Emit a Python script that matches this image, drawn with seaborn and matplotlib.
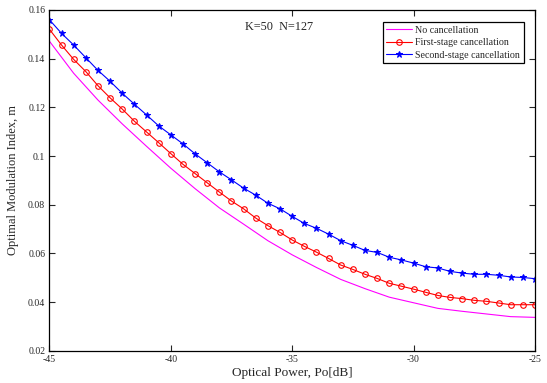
import numpy as np
import pandas as pd
import matplotlib
matplotlib.use('Agg')
import matplotlib.pyplot as plt
import seaborn as sns

# values
power_fine = [-45.0, -44.5, -44.0, -43.5, -43.0, -42.5, -42.0, -41.5, -41.0, -40.5,
              -40.0, -39.5, -39.0, -38.5, -38.0, -37.5, -37.0, -36.5, -36.0, -35.5,
              -35.0, -34.5, -34.0, -33.5, -33.0, -32.5, -32.0, -31.5, -31.0, -30.5,
              -30.0, -29.5, -29.0, -28.5, -28.0, -27.5, -27.0, -26.5, -26.0, -25.5,
              -25.0]
first_stage = [0.1521, 0.1456, 0.1397, 0.1347, 0.1289, 0.1239, 0.1193, 0.1143, 0.1099, 0.1055,
               0.1010, 0.0966, 0.0928, 0.0890, 0.0852, 0.0815, 0.0783, 0.0745, 0.0714, 0.0686,
               0.0655, 0.0629, 0.0605, 0.0579, 0.0552, 0.0534, 0.0514, 0.0497, 0.0477, 0.0465,
               0.0453, 0.0440, 0.0427, 0.0419, 0.0414, 0.0407, 0.0403, 0.0396, 0.0389, 0.0389,
               0.0389]
second_stage = [0.1560, 0.1504, 0.1456, 0.1404, 0.1352, 0.1307, 0.1258, 0.1213, 0.1169, 0.1124,
                0.1087, 0.1050, 0.1009, 0.0972, 0.0935, 0.0902, 0.0868, 0.0839, 0.0806, 0.0783,
                0.0752, 0.0723, 0.0703, 0.0679, 0.0652, 0.0633, 0.0612, 0.0604, 0.0584, 0.0573,
                0.0560, 0.0545, 0.0540, 0.0526, 0.0519, 0.0514, 0.0514, 0.0510, 0.0503, 0.0501,
                0.0496]

power_coarse = [-45, -44, -43, -42, -41, -40, -39, -38, -37, -36, -35,
                -34, -33, -32, -31, -30, -29, -28, -27, -26, -25]
no_cancel = [0.1472, 0.1340, 0.1230, 0.1132, 0.1040, 0.0950, 0.0866, 0.0787, 0.0720, 0.0652, 0.0594,
             0.0542, 0.0493, 0.0455, 0.0420, 0.0397, 0.0374, 0.0362, 0.0351, 0.0340, 0.0337]

sns.set_style('ticks')
plt.rcParams['font.family'] = ['Liberation Serif', 'DejaVu Serif']
plt.rcParams['xtick.direction'] = 'in'
plt.rcParams['ytick.direction'] = 'in'

fig = plt.figure(figsize=(5.47, 3.83), dpi=100)
ax = fig.add_axes([0.0903, 0.0843, 0.8877, 0.8896])

sns.lineplot(x=power_coarse, y=no_cancel, ax=ax, color='#ff00ff', lw=0.8,
             label='No cancellation')
sns.lineplot(x=power_fine, y=first_stage, ax=ax, color='#ff0000', lw=0.8,
             marker='o', markersize=4, markerfacecolor='none', markeredgecolor='#ff0000',
             markeredgewidth=0.8, label='First-stage cancellation')
sns.lineplot(x=power_fine, y=second_stage, ax=ax, color='#0000ff', lw=0.8,
             marker='*', markersize=4.5, markeredgecolor='#0000ff',
             label='Second-stage cancellation')

ax.set_xlim(-45, -25)
ax.set_ylim(0.02, 0.16)
ax.set_xticks([-45, -40, -35, -30, -25])
ax.set_xticklabels(['-45', '-40', '-35', '-30', '-25'])
ax.set_yticks([0.02, 0.04, 0.06, 0.08, 0.1, 0.12, 0.14, 0.16])
ax.set_yticklabels(['0.02', '0.04', '0.06', '0.08', '0.1', '0.12', '0.14', '0.16'])
ax.tick_params(labelsize=7, top=True, right=True, length=4, width=0.8, pad=3)
for s in ax.spines.values():
    s.set_linewidth(0.9)
    s.set_color('black')

ax.set_xlabel('Optical Power, Po[dB]', fontsize=9.5, labelpad=2)
ax.set_ylabel('Optimal Modulation Index, m', fontsize=9)
ax.yaxis.set_label_coords(-0.063, 0.5)

ax.text(-36.95, 0.1529, 'K=50  N=127', fontsize=8.8, va='center', ha='left')

leg = ax.legend(loc='upper right', bbox_to_anchor=(0.977, 0.964), fontsize=7.2,
                frameon=True, fancybox=False, edgecolor='black', framealpha=1,
                handlelength=2.6, handletextpad=0.3, borderpad=0.35, labelspacing=0.35,
                borderaxespad=0)
leg.get_frame().set_linewidth(0.9)

fig.savefig('out.png', dpi=100)
